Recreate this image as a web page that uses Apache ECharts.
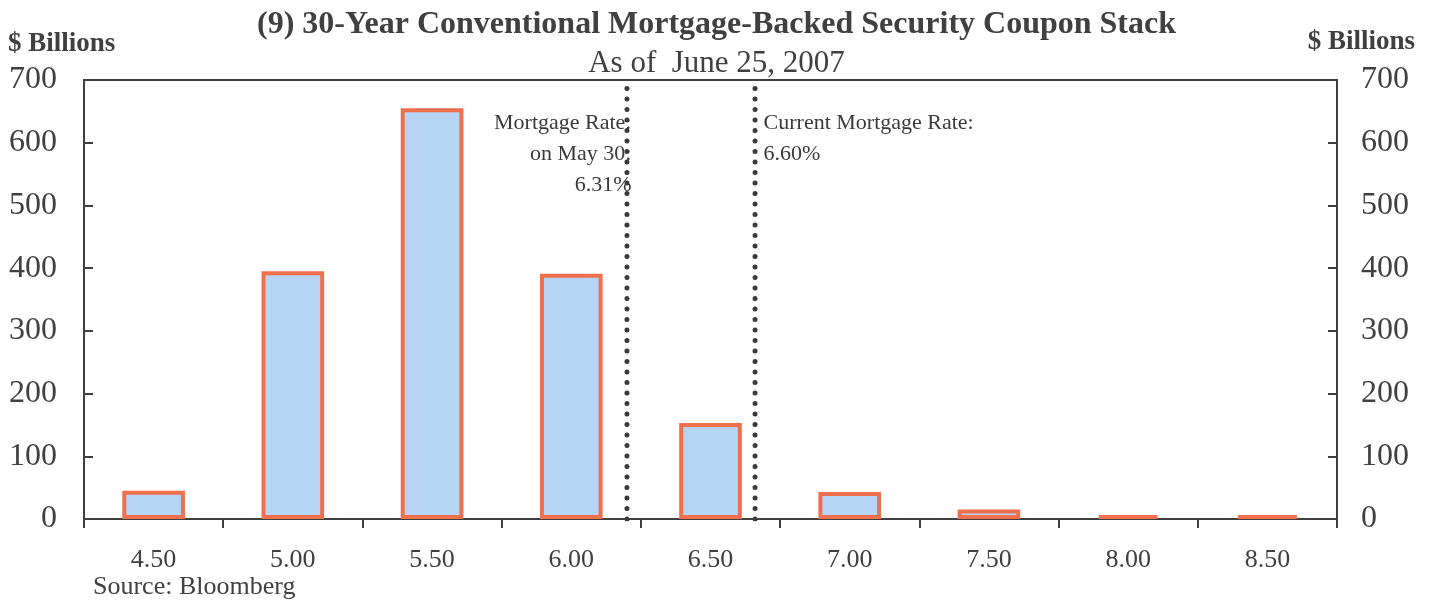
<!DOCTYPE html>
<html>
<head>
<meta charset="utf-8">
<script src="https://cdn.jsdelivr.net/npm/echarts@6/dist/echarts.min.js"></script>
<style>
  html, body { margin: 0; padding: 0; background: #fff; }
  #chart { width: 1433px; height: 604px; }
</style>
</head>
<body>
<div id="chart"></div>
<script>
// Coupon buckets and outstanding balances ($ billions)
const coupons = ['4.50', '5.00', '5.50', '6.00', '6.50', '7.00', '7.50', '8.00', '8.50'];
const balances = [45, 395, 655, 391, 153, 43, 15, 6, 6];

// Y-axis scale
const yMin = 0;
const yMax = 700;
const yStep = 100;

// Reference rate lines, placed on the coupon scale
const rateLinePositions = [6.20, 6.66];
const rateLineTexts = [
  'Mortgage Rate:\non May 30:\n6.31%',
  'Current Mortgage Rate:\n6.60%'
];

const FONT = '"Liberation Serif", "Times New Roman", serif';
const TEXT = '#404040';
const AXIS = '#3f3f3f';

const chart = echarts.init(document.getElementById('chart'), null, { renderer: 'canvas' });

// Dotted vertical lines for the two rates
const lineSeries = rateLinePositions.map((pos) => ({
  type: 'line',
  xAxisIndex: 1,
  yAxisIndex: 0,
  symbol: 'none',
  silent: true,
  z: 5,
  lineStyle: { color: '#3a3a3a', width: 5, type: [0.1, 10.4], cap: 'round' },
  data: [[pos, yMin], [pos, yMax]]
}));

// Text beside the top of each rate line
const labelSeries = {
  type: 'scatter',
  xAxisIndex: 1,
  yAxisIndex: 0,
  symbolSize: 1,
  silent: true,
  z: 6,
  itemStyle: { color: '#ffffff', opacity: 0 },
  data: rateLinePositions.map((pos, i) => ({
    value: [pos, yMax],
    label: {
      show: true,
      formatter: rateLineTexts[i],
      position: i === 0 ? [5, 28] : [9, 28],
      align: i === 0 ? 'right' : 'left',
      verticalAlign: 'top',
      fontFamily: FONT,
      fontSize: 22,
      lineHeight: 31,
      color: '#3a3a3a',
      opacity: 1
    }
  }))
};

chart.setOption({
  animation: false,
  backgroundColor: '#ffffff',
  title: [
    {
      text: '(9) 30-Year Conventional Mortgage-Backed Security Coupon Stack',
      left: 'center',
      top: 4,
      textStyle: { fontFamily: FONT, fontSize: 32, fontWeight: 'bold', color: TEXT }
    },
    {
      text: 'As of  June 25, 2007',
      left: 'center',
      top: 43,
      textStyle: { fontFamily: FONT, fontSize: 31, fontWeight: 'normal', color: TEXT }
    }
  ],
  graphic: [
    {
      type: 'text', left: 8, top: 31,
      style: { text: '$ Billions', font: 'bold 27px ' + FONT, fill: TEXT }
    },
    {
      type: 'text', right: 18, top: 29,
      style: { text: '$ Billions', font: 'bold 27px ' + FONT, fill: TEXT }
    },
    {
      type: 'text', left: 93, top: 574,
      style: { text: 'Source: Bloomberg', font: '26px ' + FONT, fill: TEXT }
    }
  ],
  grid: {
    left: 84, right: 96, top: 80, bottom: 85,
    show: true, borderColor: AXIS, borderWidth: 2, backgroundColor: 'transparent'
  },
  xAxis: [
    {
      type: 'category',
      data: coupons,
      boundaryGap: true,
      axisLine: { lineStyle: { color: AXIS, width: 2 } },
      axisTick: { show: true, inside: false, length: 9, lineStyle: { color: AXIS, width: 2 } },
      axisLabel: { fontFamily: FONT, fontSize: 26, color: TEXT, margin: 28 },
      splitLine: { show: false }
    },
    {
      type: 'value',
      min: 4.25,
      max: 8.75,
      show: false
    }
  ],
  yAxis: [
    {
      type: 'value',
      position: 'left',
      min: yMin, max: yMax, interval: yStep,
      axisLine: { show: true, lineStyle: { color: AXIS, width: 2 } },
      axisTick: { show: true, inside: true, length: 9, lineStyle: { color: AXIS, width: 2 } },
      axisLabel: { fontFamily: FONT, fontSize: 32, color: TEXT, margin: 27 },
      splitLine: { show: false }
    },
    {
      type: 'value',
      position: 'right',
      min: yMin, max: yMax, interval: yStep,
      axisLine: { show: true, lineStyle: { color: AXIS, width: 2 } },
      axisTick: { show: true, inside: true, length: 9, lineStyle: { color: AXIS, width: 2 } },
      axisLabel: { fontFamily: FONT, fontSize: 32, color: TEXT, margin: 24 },
      splitLine: { show: false }
    }
  ],
  series: [
    {
      type: 'bar',
      xAxisIndex: 0,
      yAxisIndex: 0,
      data: balances,
      barWidth: '45%',
      z: 3,
      itemStyle: {
        color: '#b6d5f5',
        borderColor: '#f0704e',
        borderWidth: 4
      }
    },
    ...lineSeries,
    labelSeries
  ]
});
</script>
</body>
</html>
